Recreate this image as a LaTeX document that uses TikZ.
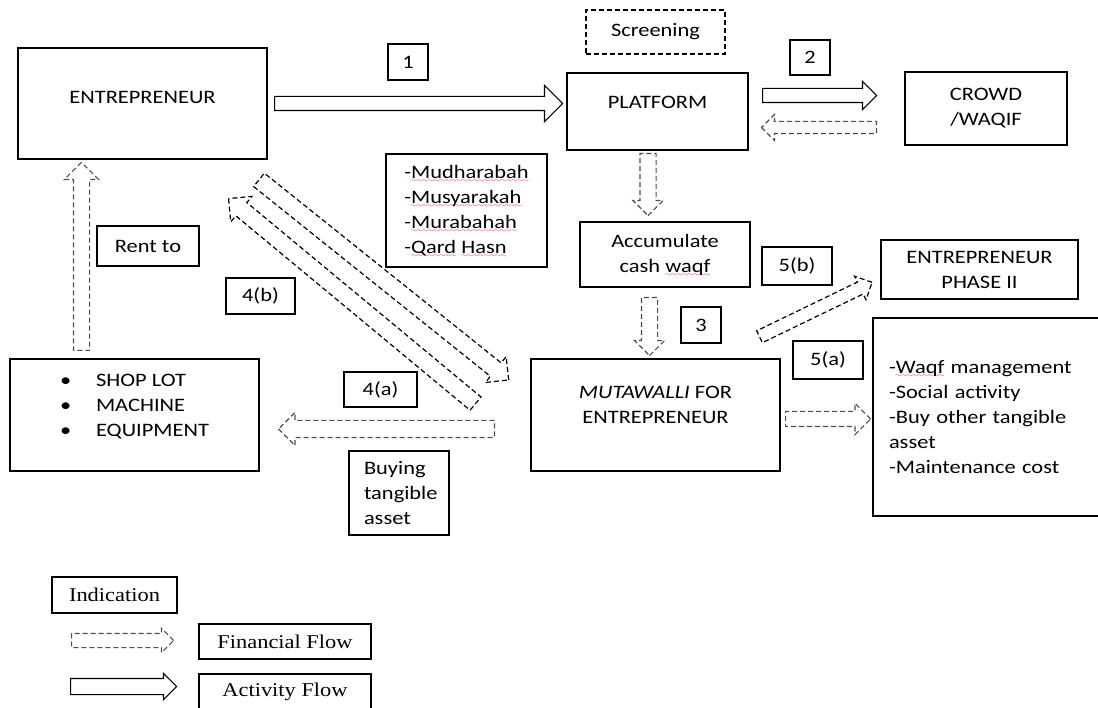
\documentclass[tikz,border=0pt]{standalone}
\usepackage{fontspec}
\setmainfont{Carlito}[FakeStretch=1.18]
\newfontfamily\legendfont{Liberation Serif}[FakeStretch=1.15]
\usetikzlibrary{shapes.arrows}

% red spell-check wave under a word
\font\wavefont=lasy7
\newcommand\spellerr[1]{\setbox0\hbox{#1}\rlap{\smash{\textcolor{red}{\lower4.5pt\hbox to\wd0{\xleaders\hbox{\wavefont\char58}\hfil}}}}\box0\relax}

\begin{document}
\begin{tikzpicture}[x=1pt, y=-1pt, font=\fontsize{19}{25}\selectfont,
  box/.style={draw, line width=1.2pt, inner sep=0pt, align=center},
  dashbox/.style={box, dash pattern=on 5pt off 3pt},
  legend/.style={font=\legendfont\fontsize{19.5}{24}\selectfont},
  actarrow/.style={single arrow, draw, line width=1.2pt, inner xsep=0pt, minimum width=0pt, anchor=tail},
  finarrow/.style={actarrow, draw=black!70, dash pattern=on 5pt off 3pt}]
\useasboundingbox (0,0) rectangle (1098,708);

% Entrepreneur, platform, crowd
\node[box, minimum width=249, minimum height=111, text depth=13pt] (ent) at (142.5,103.5) {ENTREPRENEUR};
\node[box, minimum width=40, minimum height=36] (one) at (408,62) {1};
\node[box, minimum width=181, minimum height=77, text depth=19pt] (plat) at (657.5,111.5) {PLATFORM};
\node[dashbox, minimum width=139, minimum height=44] (screen) at (655.5,32) {Screening};
\node[box, minimum width=40, minimum height=35] (two) at (810,57.5) {2};
\node[box, minimum width=162, minimum height=73] (crowd) at (986,108.5) {CROWD\\/WAQIF};

% Contracts
\node[box, minimum width=161, minimum height=113, align=left] (contract) at (466.5,210.5)
  {-\spellerr{Mudharabah}\\-\spellerr{Musyarakah}\\-\spellerr{Murabahah}\\-\spellerr{Qard} \spellerr{Hasn}};

% Waqf fund and mutawalli
\node[box, minimum width=170, minimum height=65] (acc) at (665,254.5) {Accumulate\\cash \spellerr{waqf}};
\node[box, minimum width=70, minimum height=38] (fiveb) at (797,266) {5(b)};
\node[box, minimum width=197, minimum height=59] (phase) at (979.5,269.5) {ENTREPRENEUR\\PHASE II};
\node[box, minimum width=40, minimum height=36] (three) at (701,325) {3};
\node[box, minimum width=70, minimum height=38] (fivea) at (828,360) {5(a)};
\node[box, minimum width=249, minimum height=112] (mut) at (655.5,415) {\textit{MUTAWALLI} FOR\\ENTREPRENEUR\\[-4pt]\mbox{}};
\node[box, minimum height=198, text width=215pt, inner xsep=16pt, align=left] (use) at (996.5,417)
  {-\spellerr{Waqf} management\\-Social activity\\-Buy other tangible\\asset\\-Maintenance cost};

% Assets
\node[box, minimum width=249, minimum height=112, align=left] (asset) at (134.5,415)
  {\makebox[36pt][l]{\textbullet}SHOP LOT\\\makebox[36pt][l]{\textbullet}MACHINE\\\makebox[36pt][l]{\textbullet}EQUIPMENT\\[-6pt]\mbox{}};
\node[box, minimum width=73, minimum height=35] (foura) at (380.5,389.5) {4(a)};
\node[box, minimum height=84, text width=70pt, inner xsep=15pt, align=left] (buy) at (399,493) {Buying\\tangible\\asset};
\node[box, minimum width=102, minimum height=40] (rent) at (148,246) {Rent to};
\node[box, minimum width=69, minimum height=36] (fourb) at (260.5,296) {4(b)};

% Flows
\node[actarrow, minimum height=288, inner ysep=6.5pt, single arrow head extend=11pt] (a1) at (274,103.5) {};
\node[actarrow, minimum height=114, inner ysep=6.5pt, single arrow head extend=7pt] (a2) at (762,95.5) {};
\node[finarrow, minimum height=115, inner ysep=5.5pt, single arrow head extend=7pt, rotate=180] (f1) at (877,127.5) {};
\node[finarrow, minimum height=62, inner ysep=7.5pt, single arrow head extend=7pt, rotate=-90] (f2) at (648,153) {};
\node[finarrow, minimum height=58, inner ysep=7.5pt, single arrow head extend=7pt, rotate=-90] (f3) at (649.5,297) {};
\node[finarrow, draw=black, minimum height=125, inner ysep=6pt, single arrow head extend=6.5pt, rotate=25.8] (f4) at (759,337) {};
\node[finarrow, minimum height=85, inner ysep=7pt, single arrow head extend=8pt] (f5) at (785,419) {};
\node[finarrow, minimum height=216, inner ysep=8pt, single arrow head extend=8pt, rotate=180] (f6) at (495,429) {};
\node[finarrow, minimum height=188, inner ysep=7.5pt, single arrow head extend=9pt, rotate=90] (f7) at (81.5,351) {};
\node[finarrow, draw=black, minimum height=320, inner ysep=8pt, single arrow head extend=8pt, rotate=-38.7] (f8) at (258.5,179.5) {};
\node[finarrow, draw=black, minimum height=321, inner ysep=8pt, single arrow head extend=8pt, rotate=140.3] (f9) at (476,404) {};

% Legend
\node[box, legend, minimum width=125, minimum height=36] (ind) at (114.5,595) {Indication};
\node[finarrow, minimum height=102, inner ysep=6.5pt, single arrow head extend=5pt] (lfin) at (71,640.5) {};
\node[box, legend, minimum width=172, minimum height=35] (tfin) at (285,641.5) {Financial Flow};
\node[actarrow, minimum height=106, inner ysep=7.5pt, single arrow head extend=5pt] (lact) at (70,686.5) {};
\node[box, legend, minimum width=172, minimum height=35] (tact) at (285,691.5) {Activity Flow};
\end{tikzpicture}
\end{document}
